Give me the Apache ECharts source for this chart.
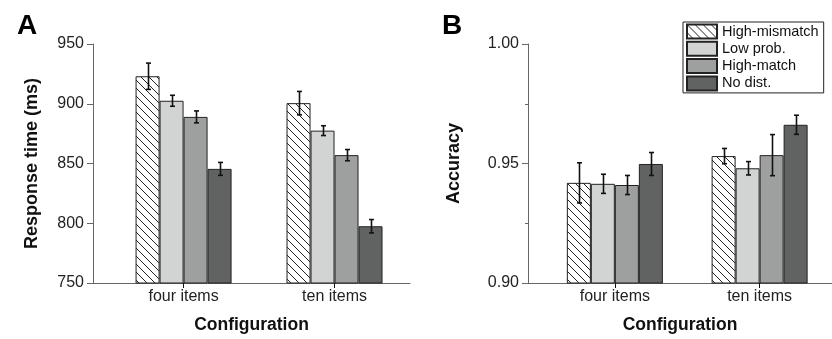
<!DOCTYPE html>
<html>
<head>
<meta charset="utf-8">
<script src="https://cdn.jsdelivr.net/npm/echarts@6/dist/echarts.min.js"></script>
<style>
  html, body { margin: 0; padding: 0; background: #fff; }
  #main { width: 832px; height: 339px; }
</style>
</head>
<body>
<div id="main"></div>
<script>
// data
var categories = ['four items', 'ten items'];
var conditions = ['High-mismatch', 'Low prob.', 'High-match', 'No dist.'];

// panel A: response time (ms), per condition [four items, ten items]
var rtMean = [
    [923, 900.5],   // High-mismatch
    [902.5, 877.5], // Low prob.
    [889, 857],     // High-match
    [845.5, 797.5]  // No dist.
];
var rtErr = [
    [11, 9.8],
    [4.6, 4.1],
    [5, 4.7],
    [5.4, 5.6]
];

// panel B: accuracy
var accMean = [
    [0.9419, 0.9531],
    [0.9415, 0.9480],
    [0.9410, 0.9535],
    [0.9498, 0.9662]
];
var accErr = [
    [0.0084, 0.0032],
    [0.0040, 0.0028],
    [0.0040, 0.0086],
    [0.0048, 0.0040]
];

var rtTicks = [750, 950, 50];
var accTicks = [0.90, 1.00, 0.05];

var greys = [null, '#d2d3d3', '#9e9f9f', '#616262'];
var BAR_W = 24;

// category k sits at x = k + 1 on a value axis (lets the axis start left of the first band)
var catPos = categories.map(function(c, k) { return k + 1; });

// hatch pattern for the first condition
function makeHatch() {
    var c = document.createElement('canvas');
    c.width = 8; c.height = 8;
    var ctx = c.getContext('2d');
    ctx.fillStyle = '#fff';
    ctx.fillRect(0, 0, 8, 8);
    ctx.strokeStyle = '#222';
    ctx.lineWidth = 1;
    ctx.beginPath();
    ctx.moveTo(-2, -2); ctx.lineTo(10, 10);
    ctx.moveTo(6, -2); ctx.lineTo(10, 2);
    ctx.moveTo(-2, 6); ctx.lineTo(2, 10);
    ctx.stroke();
    return c;
}
var hatch = { image: makeHatch(), repeat: 'repeat' };

function barColor(i) {
    return i === 0 ? hatch : greys[i];
}

function errSeries(panel, i, means, errs) {
    var data = catPos.map(function(x, k) { return [x, means[i][k], errs[i][k]]; });
    return {
        type: 'custom',
        name: 'err' + panel + i,
        xAxisIndex: panel,
        yAxisIndex: panel,
        z: 5,
        silent: true,
        data: data,
        renderItem: function(params, api) {
            var m = api.value(1), e = api.value(2);
            var hi = api.coord([api.value(0), m + e]);
            var lo = api.coord([api.value(0), m - e]);
            var x = Math.round(hi[0] + (i - 1.5) * BAR_W) + 0.5;
            var cap = 2.5;
            var st = { stroke: '#111', lineWidth: 1.6 };
            return {
                type: 'group',
                children: [
                    { type: 'line', shape: { x1: x, y1: hi[1], x2: x, y2: lo[1] }, style: st },
                    { type: 'line', shape: { x1: x - cap, y1: hi[1], x2: x + cap, y2: hi[1] }, style: st },
                    { type: 'line', shape: { x1: x - cap, y1: lo[1], x2: x + cap, y2: lo[1] }, style: st }
                ]
            };
        }
    };
}

var series = [];
conditions.forEach(function(name, i) {
    [0, 1].forEach(function(p) {
        var means = p === 0 ? rtMean : accMean;
        series.push({
            type: 'bar',
            name: name,
            xAxisIndex: p,
            yAxisIndex: p,
            barWidth: BAR_W,
            barGap: '0%',
            data: catPos.map(function(x, k) { return [x, means[i][k]]; }),
            itemStyle: {
                color: barColor(i),
                borderColor: '#222',
                borderWidth: 1
            },
            emphasis: { disabled: true }
        });
    });
});
conditions.forEach(function(name, i) {
    series.push(errSeries(0, i, rtMean, rtErr));
    series.push(errSeries(1, i, accMean, accErr));
});

var font = 'Liberation Sans, Arial, sans-serif';
var axisColor = '#666';

function xAxisCfg(idx) {
    return {
        type: 'value',
        gridIndex: idx,
        min: 0.4,
        max: 2.5,
        name: 'Configuration',
        nameLocation: 'middle',
        nameGap: 33,
        nameTextStyle: { fontFamily: font, fontSize: 17.5, fontWeight: 'bold', color: '#111' },
        axisLine: { show: true, onZero: false, lineStyle: { color: axisColor, width: 1 } },
        axisTick: { show: true, customValues: catPos, length: 5, lineStyle: { color: '#111' } },
        axisLabel: {
            customValues: catPos,
            fontFamily: font, fontSize: 16, color: '#222', margin: 6,
            formatter: function(v) { return categories[Math.round(v) - 1]; }
        },
        splitLine: { show: false }
    };
}

function yAxisCfg(idx, ticks, name, gap, digits, minor) {
    return {
        type: 'value',
        gridIndex: idx,
        position: 'left',
        min: ticks[0],
        max: ticks[1],
        interval: ticks[2],
        name: name,
        nameLocation: 'middle',
        nameGap: gap,
        nameTextStyle: { fontFamily: font, fontSize: 18, fontWeight: 'bold', color: '#111' },
        axisLine: { show: true, onZero: false, lineStyle: { color: axisColor, width: 1 } },
        axisTick: { show: true, length: 6, lineStyle: { color: axisColor } },
        minorTick: { show: minor, splitNumber: 2, length: 3, lineStyle: { color: axisColor } },
        axisLabel: {
            fontFamily: font, fontSize: 16, color: '#222', margin: 9,
            formatter: function(v) { return v.toFixed(digits); }
        },
        splitLine: { show: false }
    };
}

var chart = echarts.init(document.getElementById('main'), null, { renderer: 'canvas' });
chart.setOption({
    animation: false,
    backgroundColor: '#fff',
    title: [
        { text: 'A', left: 12, top: 7, textStyle: { fontFamily: font, fontSize: 28, fontWeight: 'bold', color: '#000' } },
        { text: 'B', left: 437, top: 7, textStyle: { fontFamily: font, fontSize: 28, fontWeight: 'bold', color: '#000' } }
    ],
    grid: [
        { left: 93, top: 44, width: 317, height: 242 },
        { left: 528, top: 44, width: 317, height: 242 }
    ],
    legend: {
        data: conditions,
        orient: 'vertical',
        left: 683,
        top: 22,
        itemWidth: 30,
        itemHeight: 14,
        itemGap: 1.3,
        padding: [1.5, 5, 1.5, 3],
        borderColor: '#222',
        borderWidth: 1,
        icon: 'rect',
        selectedMode: false,
        textStyle: { fontFamily: font, fontSize: 14.5, lineHeight: 16, color: '#111' }
    },
    xAxis: [xAxisCfg(0), xAxisCfg(1)],
    yAxis: [
        yAxisCfg(0, rtTicks, 'Response time (ms)', 52, 0, false),
        yAxisCfg(1, accTicks, 'Accuracy', 65, 2, true)
    ],
    series: series
});
</script>
</body>
</html>
